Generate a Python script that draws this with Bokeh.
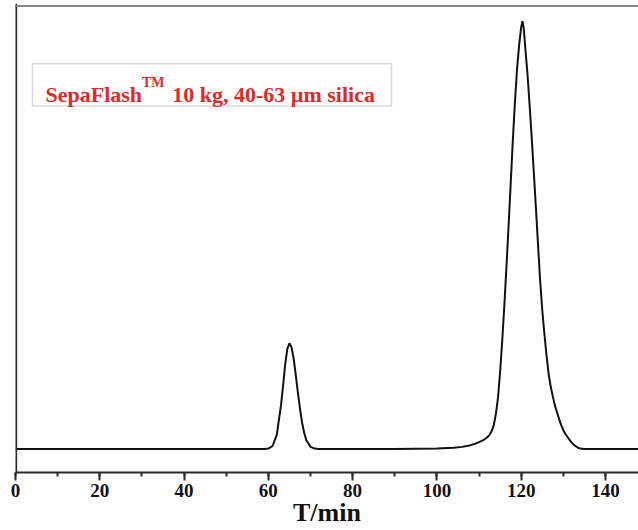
from bokeh.plotting import figure
from bokeh.models import Span, BoxAnnotation, Label, SingleIntervalTicker, Range1d
from bokeh.embed import file_html
from bokeh.resources import INLINE

# Chromatogram: time (min) and detector signal (a.u., big peak = 100)
time_min = [0, 10, 20, 30, 35, 40, 50, 55, 58, 59, 60, 61, 62, 63, 63.5, 64, 64.5, 65,
            65.5, 66, 66.5, 67, 67.5, 68, 68.5, 69, 70, 71, 72, 80, 90, 100, 104, 106,
            108, 109, 110, 111, 111.5, 112, 112.5, 113, 113.5, 114, 114.5, 115, 115.5,
            116, 116.5, 117, 117.5, 118, 118.5, 119, 119.5, 120, 120.3, 120.6, 121,
            121.5, 122, 122.5, 123, 123.5, 124, 124.5, 125, 125.5, 126, 126.5, 127,
            127.5, 128, 128.5, 129, 129.5, 130, 130.5, 131, 131.5, 132, 132.5, 133,
            133.5, 134, 135, 140, 148]
signal = [0, 0, 0, 0, 0, 0, 0, 0, 0, 0, 0.1, 0.7, 3.3, 10.2, 14.8, 19.8, 23.4, 24.7,
          23.8, 21.2, 17.4, 13.3, 9.5, 6.2, 3.8, 2.1, 0.5, 0.1, 0, 0, 0, 0.1, 0.3, 0.5,
          0.9, 1.2, 1.6, 2.1, 2.4, 2.8, 3.3, 4.2, 5.6, 8.2, 12.0, 18.0, 25.3,
          33.5, 42.5, 52.0, 61.8, 71.8, 80.8, 88.6, 94.3, 98.6, 100.0, 98.4, 93.5,
          87.6, 80.4, 72.8, 64.6, 56.3, 47.7, 39.4, 32.5, 27.0, 22.0, 17.6, 14.6,
          12.3, 10.2, 8.6, 7.0, 5.6, 4.4, 3.5, 2.8, 2.1, 1.5, 1.0, 0.6,
          0.3, 0.1, 0, 0, 0]

x_label = "T/min"
title_main = "SepaFlash"
title_sup = "TM"
title_rest = "10 kg, 40-63 µm silica"

serif = "Liberation Serif"
red = "#e02a2a"
dark = "#2b2b2b"

p = figure(width=638, height=530, x_range=Range1d(0, 147.84), y_range=Range1d(-5.49, 104.14),
           output_backend="svg", toolbar_location=None,
           min_border_left=15, min_border_right=0, min_border_top=3, min_border_bottom=58)
p.outline_line_color = None
p.xgrid.visible = False
p.ygrid.visible = False
p.yaxis.visible = False
p.background_fill_color = "white"
p.border_fill_color = "white"

ax = p.xaxis[0]
ax.ticker = SingleIntervalTicker(interval=20, num_minor_ticks=2)
ax.axis_line_color = dark
ax.axis_line_width = 2
ax.major_tick_line_color = dark
ax.major_tick_line_width = 2
ax.major_tick_out = 8
ax.major_tick_in = 0
ax.minor_tick_line_color = dark
ax.minor_tick_line_width = 2
ax.minor_tick_out = 4
ax.minor_tick_in = 0
ax.major_label_text_font = serif
ax.major_label_text_font_style = "bold"
ax.major_label_text_font_size = "19px"
ax.major_label_text_color = "#111111"
ax.major_label_standoff = 3
ax.axis_label = x_label
ax.axis_label_text_font = serif
ax.axis_label_text_font_style = "bold"
ax.axis_label_text_font_size = "26px"
ax.axis_label_text_color = "#111111"
ax.axis_label_standoff = -2

# frame edges: dark left axis, light top border
p.add_layout(Span(location=0.1, dimension="height", line_color=dark, line_width=2.5))
p.add_layout(Span(location=103.55, dimension="width", line_color="#8a8a8a", line_width=2))

p.line(time_min, signal, line_color="#111111", line_width=2)

# legend-like text box
p.add_layout(BoxAnnotation(left=4.03, right=89.2, bottom=80.18, top=90.04,
                           fill_color="white", fill_alpha=1.0,
                           line_color="#858585", line_width=1.5))
p.add_layout(Label(x=7.12, y=82.8, text=title_main, text_font=serif, text_font_style="bold",
                   text_font_size="22px", text_color=red, text_baseline="alphabetic"))
p.add_layout(Label(x=30.0, y=85.6, text=title_sup, text_font=serif, text_font_style="bold",
                   text_font_size="14px", text_color=red, text_baseline="alphabetic"))
p.add_layout(Label(x=37.19, y=82.8, text=title_rest, text_font=serif, text_font_style="bold",
                   text_font_size="22px", text_color=red, text_baseline="alphabetic"))

open("out.html", "w").write(file_html(p, INLINE))
